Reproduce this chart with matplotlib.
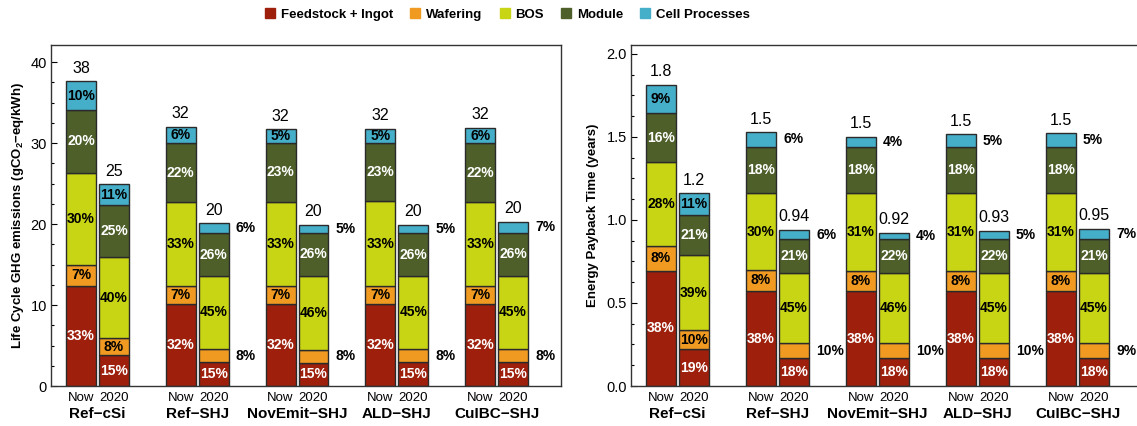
import matplotlib
matplotlib.use("Agg")
import matplotlib.pyplot as plt
import numpy as np
from matplotlib.lines import Line2D
from matplotlib.ticker import MultipleLocator, FormatStrFormatter
import matplotlib.transforms as mtransforms

plt.rcParams['font.family'] = ['Liberation Sans', 'DejaVu Sans']
plt.rcParams['mathtext.fontset'] = 'custom'
plt.rcParams['mathtext.rm'] = 'Liberation Sans'
plt.rcParams['mathtext.bf'] = 'Liberation Sans:bold'

# ---------------- data ----------------
categories = ['Ref\u2212cSi', 'Ref\u2212SHJ', 'NovEmit\u2212SHJ', 'ALD\u2212SHJ', 'CuIBC\u2212SHJ']
periods = ['Now', '2020']
components = ['Feedstock + Ingot', 'Wafering', 'BOS', 'Module', 'Cell Processes']

# bar order: (Ref-cSi Now, Ref-cSi 2020, Ref-SHJ Now, Ref-SHJ 2020, ...)
ghg_feedstock = [12.4, 3.8, 10.1, 2.95, 10.1, 2.9, 10.1, 2.95, 10.1, 2.95]
ghg_wafering = [2.6, 2.1, 2.25, 1.6, 2.25, 1.6, 2.2, 1.6, 2.2, 1.6]
ghg_bos = [11.3, 10.0, 10.4, 9.05, 10.4, 9.1, 10.5, 9.05, 10.45, 9.05]
ghg_module = [7.8, 6.4, 7.2, 5.25, 7.3, 5.3, 7.2, 5.25, 7.2, 5.3]
ghg_cell = [3.5, 2.6, 2.05, 1.25, 1.65, 1.0, 1.75, 1.05, 1.95, 1.4]
ghg_totals = ['38', '25', '32', '20', '32', '20', '32', '20', '32', '20']
ghg_pct_feedstock = [33, 15, 32, 15, 32, 15, 32, 15, 32, 15]
ghg_pct_wafering = [7, 8, 7, 8, 7, 8, 7, 8, 7, 8]
ghg_pct_bos = [30, 40, 33, 45, 33, 46, 33, 45, 33, 45]
ghg_pct_module = [20, 25, 22, 26, 23, 26, 23, 26, 22, 26]
ghg_pct_cell = [10, 11, 6, 6, 5, 5, 5, 5, 6, 7]

epbt_feedstock = [0.695, 0.22, 0.572, 0.17, 0.572, 0.167, 0.572, 0.167, 0.572, 0.167]
epbt_wafering = [0.15, 0.116, 0.127, 0.087, 0.123, 0.09, 0.123, 0.09, 0.123, 0.09]
epbt_bos = [0.503, 0.453, 0.462, 0.426, 0.47, 0.426, 0.47, 0.426, 0.47, 0.426]
epbt_module = [0.295, 0.244, 0.281, 0.201, 0.273, 0.201, 0.273, 0.201, 0.273, 0.201]
epbt_cell = [0.17, 0.128, 0.086, 0.056, 0.064, 0.04, 0.078, 0.05, 0.084, 0.062]
epbt_totals = ['1.8', '1.2', '1.5', '0.94', '1.5', '0.92', '1.5', '0.93', '1.5', '0.95']
epbt_pct_feedstock = [38, 19, 38, 18, 38, 18, 38, 18, 38, 18]
epbt_pct_wafering = [8, 10, 8, 10, 8, 10, 8, 10, 8, 9]
epbt_pct_bos = [28, 39, 30, 45, 31, 46, 31, 45, 31, 45]
epbt_pct_module = [16, 21, 18, 21, 18, 22, 18, 22, 18, 21]
epbt_pct_cell = [9, 11, 6, 6, 4, 4, 5, 5, 5, 7]

# ---------------- style ----------------
colors = ['#9E1F0B', '#F09A22', '#C8D515', '#4E5F2A', '#45AEC8']
text_colors = ['white', 'black', 'black', 'white', 'black']

W, H = 1137, 426
fig = plt.figure(figsize=(W / 100, H / 100), dpi=100)

def px_axes(l, r, t, b):
    return fig.add_axes([l / W, (H - b) / H, (r - l) / W, (b - t) / H])

ax1 = px_axes(51, 561, 45, 386)
ax2 = px_axes(631, 1142, 45, 386)

n_groups = len(categories)
offset = 0.165
bw = 0.30
bar_x = []
for g in range(n_groups):
    bar_x += [g - offset, g + offset]
bar_x = np.array(bar_x)


def draw_panel(ax, series, pcts, totals, outside, ylim, major, minor, fmt):
    bottoms = np.zeros(len(bar_x))
    for k, (vals, pc) in enumerate(zip(series, pcts)):
        vals = np.array(vals)
        ax.bar(bar_x, vals, bw, bottom=bottoms, color=colors[k],
               edgecolor='#2a2a2a', linewidth=1.0, zorder=2)
        for i, (v, p) in enumerate(zip(vals, pc)):
            yc = bottoms[i] + v / 2
            if (i, k) in outside:
                ax.text(bar_x[i] + bw / 2 + 0.07, yc, f'{p}%', ha='left', va='center',
                        fontsize=10, fontweight='bold', color='black')
            else:
                ax.text(bar_x[i], yc, f'{p}%', ha='center', va='center',
                        fontsize=10, fontweight='bold', color=text_colors[k])
        bottoms = bottoms + vals
    for i, t in enumerate(totals):
        ax.annotate(t, (bar_x[i], bottoms[i]), xytext=(0, 4), textcoords='offset points',
                    ha='center', va='bottom', fontsize=11.5)
    ax.set_xlim(-0.465, 4.645)
    ax.set_ylim(*ylim)
    ax.yaxis.set_major_locator(MultipleLocator(major))
    ax.yaxis.set_minor_locator(MultipleLocator(minor))
    ax.yaxis.set_major_formatter(FormatStrFormatter(fmt))
    ax.tick_params(axis='y', which='major', direction='in', length=4, width=0.8,
                   labelsize=10.5, pad=3)
    ax.tick_params(axis='y', which='minor', direction='in', length=2.5, width=0.8)
    ax.tick_params(axis='y', right=False)
    ax.set_xticks(bar_x)
    ax.set_xticklabels(periods * n_groups)
    ax.tick_params(axis='x', length=0, labelsize=9.5, pad=4)
    trans = mtransforms.blended_transform_factory(ax.transData, ax.transAxes)
    for g, name in enumerate(categories):
        ax.text(g, -0.082, name, transform=trans, ha='center', va='center',
                fontsize=11, fontweight='bold')
    for sp in ax.spines.values():
        sp.set_linewidth(1.0)
        sp.set_color('#333333')


ghg_outside = set()
epbt_outside = set()
for g in range(1, n_groups):
    ghg_outside |= {(2 * g + 1, 1), (2 * g + 1, 4)}
    epbt_outside |= {(2 * g, 4), (2 * g + 1, 1), (2 * g + 1, 4)}

draw_panel(ax1,
           [ghg_feedstock, ghg_wafering, ghg_bos, ghg_module, ghg_cell],
           [ghg_pct_feedstock, ghg_pct_wafering, ghg_pct_bos, ghg_pct_module, ghg_pct_cell],
           ghg_totals, ghg_outside, (0, 42.1), 10, 2.5, '%d')
draw_panel(ax2,
           [epbt_feedstock, epbt_wafering, epbt_bos, epbt_module, epbt_cell],
           [epbt_pct_feedstock, epbt_pct_wafering, epbt_pct_bos, epbt_pct_module, epbt_pct_cell],
           epbt_totals, epbt_outside, (0, 2.054), 0.5, 0.125, '%.1f')

fig.text(18 / W, (H - 215) / H, 'Life Cycle GHG emissions (gCO$_\\mathbf{2}$\u2212eq/kWh)',
         rotation=90, ha='center', va='center', fontsize=9.5, fontweight='bold')
fig.text(593 / W, (H - 215) / H, 'Energy Payback Time (years)',
         rotation=90, ha='center', va='center', fontsize=9.5, fontweight='bold')

handles = [Line2D([0], [0], marker='s', linestyle='none', markersize=7.5,
                  markerfacecolor=c, markeredgecolor=c) for c in colors]
leg = fig.legend(handles, components, loc='center', bbox_to_anchor=(508 / W, (H - 15) / H),
                 ncol=5, frameon=False, handlelength=0.6, handletextpad=0.5,
                 columnspacing=1.4, prop={'weight': 'bold', 'size': 9.5})

fig.savefig('out.png', dpi=100)
